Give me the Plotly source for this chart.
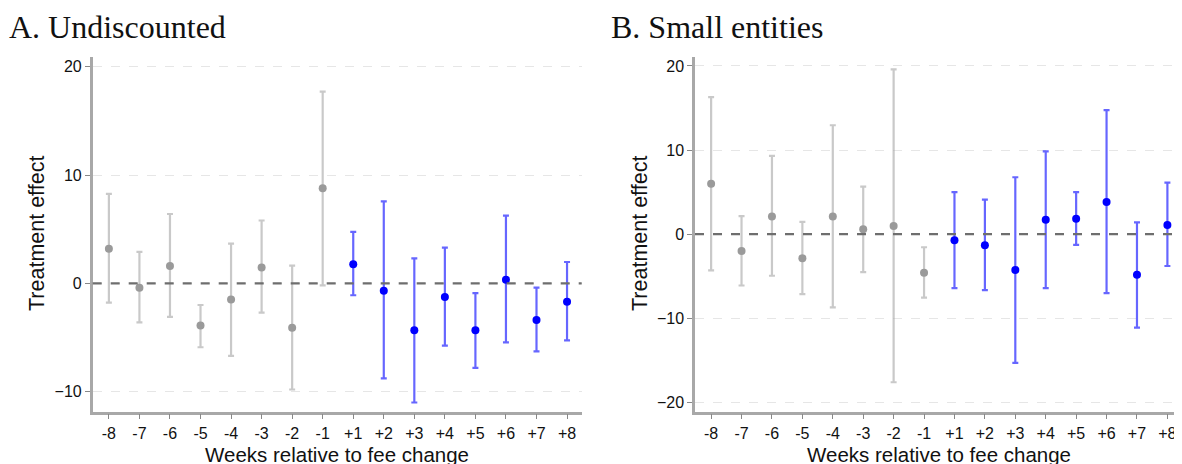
import plotly.graph_objects as go

weeks = ["-8", "-7", "-6", "-5", "-4", "-3", "-2", "-1",
         "+1", "+2", "+3", "+4", "+5", "+6", "+7", "+8"]

# Panel A: Undiscounted
a_est = [3.2, -0.4, 1.6, -3.9, -1.5, 1.45, -4.1, 8.77,
         1.75, -0.68, -4.34, -1.26, -4.34, 0.34, -3.38, -1.7]
a_hi = [8.25, 2.9, 6.4, -2.0, 3.66, 5.8, 1.63, 17.7,
        4.75, 7.57, 2.3, 3.3, -0.9, 6.25, -0.4, 1.97]
a_lo = [-1.78, -3.6, -3.1, -5.9, -6.7, -2.7, -9.8, -0.18,
        -1.1, -8.77, -11.0, -5.75, -7.8, -5.45, -6.28, -5.26]

# Panel B: Small entities
b_est = [6.0, -2.0, 2.1, -2.87, 2.1, 0.6, 0.96, -4.58,
         -0.72, -1.31, -4.26, 1.71, 1.83, 3.82, -4.82, 1.08]
b_hi = [16.3, 2.15, 9.3, 1.47, 12.95, 5.66, 19.6, -1.55,
        5.0, 4.1, 6.77, 9.84, 5.0, 14.74, 1.4, 6.13]
b_lo = [-4.3, -6.1, -4.94, -7.13, -8.7, -4.5, -17.6, -7.53,
        -6.4, -6.65, -15.3, -6.4, -1.27, -7.0, -11.1, -3.78]

# page body has an 8px margin; figure is sized so that it fills the window
OFF = 8
W, H = 1182 - OFF, 464 - OFF


def px(x):
    return (x - OFF) / W


def py(y):
    return 1 - (y - OFF) / H


pre_n = 8
idx = list(range(len(weeks)))

fig = go.Figure()


def add_panel(est, hi, lo, xa, ya):
    for sl, mcol, bcol in [(slice(0, pre_n), "#9a9a9a", "rgba(165,165,165,0.6)"),
                           (slice(pre_n, None), "#0000ff", "rgba(0,0,255,0.6)")]:
        xs = idx[sl]
        e = est[sl]
        up = [h - v for h, v in zip(hi[sl], e)]
        dn = [v - l for v, l in zip(e, lo[sl])]
        fig.add_trace(go.Scatter(
            x=xs, y=e, mode="markers", xaxis=xa, yaxis=ya,
            marker=dict(color=mcol, size=8),
            error_y=dict(type="data", array=up, arrayminus=dn, symmetric=False,
                         color=bcol, thickness=2.2, width=3),
            showlegend=False, hoverinfo="skip"))


add_panel(a_est, a_hi, a_lo, "x", "y")
add_panel(b_est, b_hi, b_lo, "x2", "y2")

ydom = [py(411.7), py(56.7)]
xdomA = [px(92.7), px(581.7)]
xdomB = [px(695.0), 1.0]

tickfont = dict(family="Liberation Sans, Arial, sans-serif", size=16, color="#111")
common_x = dict(range=[-0.53, 15.48], tickmode="array", tickvals=idx, ticktext=weeks,
                showline=True, linecolor="#a8a8a8", linewidth=2.5, ticks="outside",
                ticklen=5, tickwidth=1, tickcolor="#888", showgrid=False,
                zeroline=False, tickfont=tickfont)
common_y = dict(showline=True, linecolor="#a8a8a8", linewidth=2.5, ticks="outside",
                ticklen=5, tickwidth=1, tickcolor="#888", showgrid=True,
                gridcolor="#e6e6e6", griddash="dash", gridwidth=1,
                zeroline=False, tickfont=tickfont)

fig.update_layout(
    width=W, height=H, margin=dict(l=0, r=0, t=0, b=0),
    paper_bgcolor="white", plot_bgcolor="white",
    xaxis=dict(common_x, domain=xdomA, anchor="y"),
    yaxis=dict(common_y, domain=ydom, anchor="x", range=[-11.85, 20.92],
               tickvals=[-10, 0, 10, 20]),
    xaxis2=dict(common_x, domain=xdomB, anchor="y2"),
    yaxis2=dict(common_y, domain=ydom, anchor="x2", range=[-21.1, 21.1],
                tickvals=[-20, -10, 0, 10, 20]),
)

for xr, yr in [("x", "y"), ("x2", "y2")]:
    fig.add_shape(type="line", xref=f"{xr} domain", yref=yr, x0=0, x1=1, y0=0, y1=0,
                  line=dict(color="#6e6e6e", width=2.2, dash="dash"), layer="above")

title_font = dict(family="Liberation Serif, Times New Roman, serif", size=32, color="#111")
xlab_font = dict(family="Liberation Sans, Arial, sans-serif", size=20.5, color="#111")
ylab_font = dict(family="Liberation Sans, Arial, sans-serif", size=21.5, color="#111")

ann = [
    dict(text="A. Undiscounted", x=px(7), y=py(27), xanchor="left", yanchor="middle",
         font=title_font),
    dict(text="B. Small entities", x=px(609), y=py(27), xanchor="left", yanchor="middle",
         font=title_font),
    dict(text="Weeks relative to fee change", x=(xdomA[0] + xdomA[1]) / 2, y=py(454),
         xanchor="center", yanchor="middle", font=xlab_font),
    dict(text="Weeks relative to fee change", x=px((695 + 1182) / 2), y=py(454),
         xanchor="center", yanchor="middle", font=xlab_font),
    dict(text="Treatment effect", x=px(37), y=py(234), textangle=-90,
         xanchor="center", yanchor="middle", font=ylab_font),
    dict(text="Treatment effect", x=px(640), y=py(234), textangle=-90,
         xanchor="center", yanchor="middle", font=ylab_font),
]
for a in ann:
    a.update(xref="paper", yref="paper", showarrow=False)
fig.update_layout(annotations=ann)

fig.write_html("out.html")
